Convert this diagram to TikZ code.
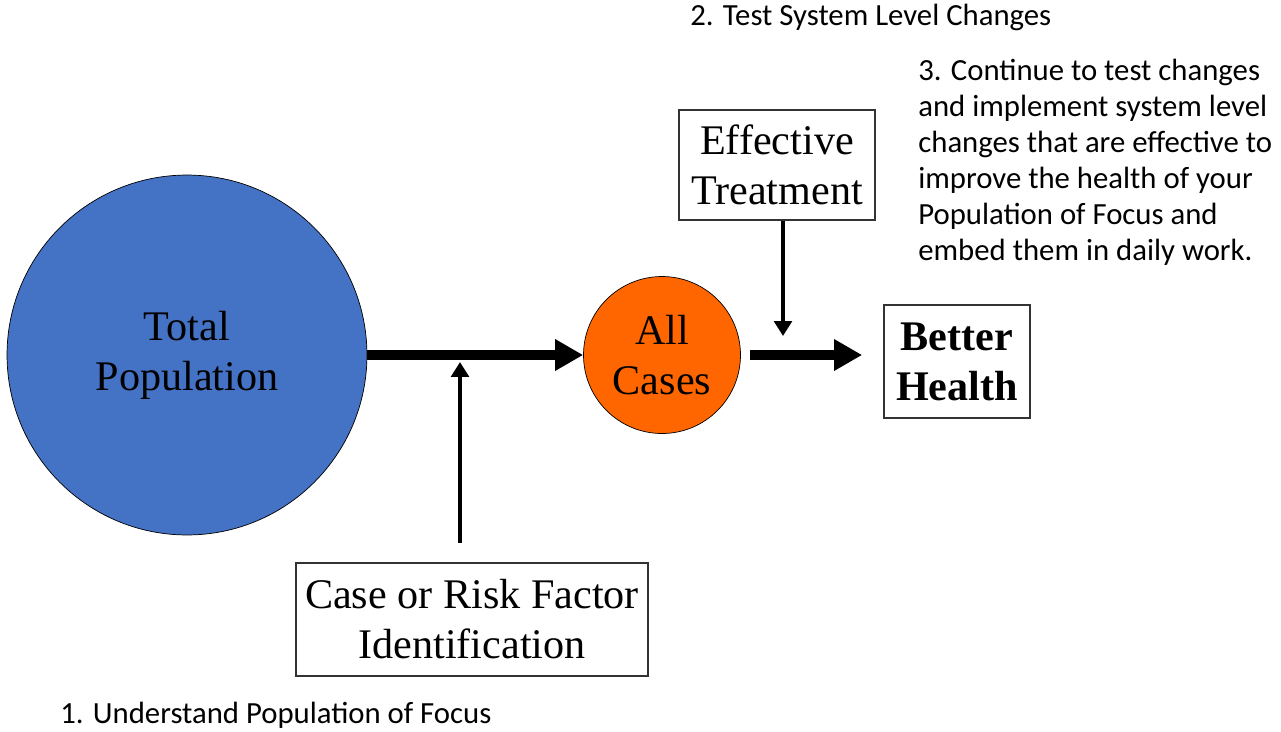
\documentclass[tikz,border=0pt]{standalone}
\usepackage{fontspec}
\setmainfont{Liberation Serif}
\newfontfamily\notefont{Carlito}
\usetikzlibrary{arrows.meta, positioning}
\definecolor{popblue}{HTML}{4472C4}
\definecolor{caseorange}{HTML}{FF6600}

\begin{document}
\begin{tikzpicture}[x=0.02cm, y=-0.02cm,
    bigarrow/.style={line width=5.7pt, -{Triangle[length=16pt, width=17pt]}},
    smallarrow/.style={line width=2.8pt, -{Triangle[length=8.5pt, width=10pt]}},
    blob/.style={circle, draw=black, thin, align=center, inner sep=0pt, font=\fontsize{24}{28.5}\selectfont},
    textbox/.style={rectangle, draw=black!80, line width=0.9pt, align=center, inner sep=0pt, font=\fontsize{24}{28.5}\selectfont},
    note/.style={align=left, inner sep=0pt, font=\notefont\fontsize{17.5}{20.5}\selectfont}]
                \useasboundingbox (0,0) rectangle (1281,731);
                % circles
                \node[blob, fill=popblue, minimum size=7.2cm] (pop) at (187,355) {Total\\Population};
                \node[blob, fill=caseorange, minimum size=3.14cm] (cases) at (662,355) {All\\Cases};
                % boxes
                \node[textbox, minimum width=7.04cm, minimum height=2.26cm] (ident) at (472,619.5) {Case or Risk Factor\\Identification};
                \node[textbox, minimum width=3.92cm, minimum height=2.2cm] (treat) at (777,165) {Effective\\Treatment};
                \node[textbox, minimum width=2.92cm, minimum height=2.26cm, font=\fontsize{24}{28.5}\selectfont\bfseries] (health) at (957,361.5) {Better\\Health};
                % notes
                \node[note, anchor=west] (step1) at (60,715) {1. Understand Population of Focus};
                \node[note, anchor=west] (step2) at (690,17) {2. Test System Level Changes};
                \node[note, anchor=north west] (step3) at (918,59) {3. Continue to test changes\\and implement system level\\changes that are effective to\\improve the health of your\\Population of Focus and\\embed them in daily work.};
                % arrows
                \coordinate (join) at (460,362);
                \coordinate (drop) at (783,336);
                \draw[bigarrow] (pop.east) -- (cases.west);
                \draw[smallarrow, shorten <=11pt] (ident.north -| join) -- (join);
                \draw[smallarrow] (treat.south -| drop) -- (drop);
                \draw[bigarrow, shorten <=5pt, shorten >=12pt] (cases.east) -- (health.west |- cases.east);
\end{tikzpicture}
\end{document}
